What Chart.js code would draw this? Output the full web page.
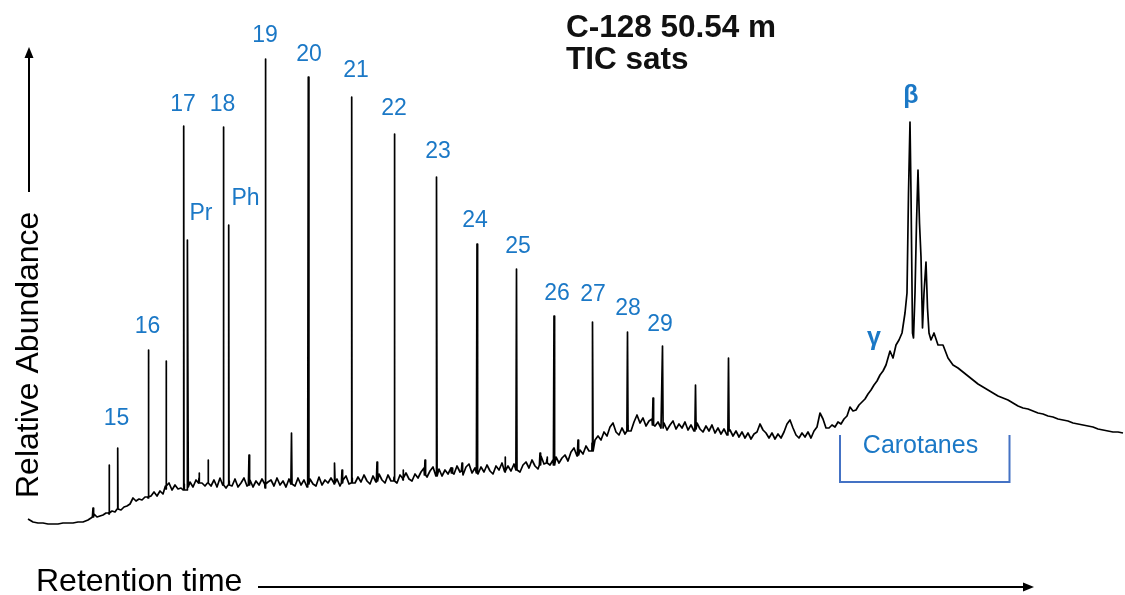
<!DOCTYPE html>
<html>
<head>
<meta charset="utf-8">
<script src="https://cdn.jsdelivr.net/npm/chart.js@4.4.1/dist/chart.umd.min.js"></script>
<style>
html,body{margin:0;padding:0;background:#fff;overflow:hidden;}
#wrap{position:relative;width:1125px;height:595px;}
</style>
</head>
<body>
<div id="wrap"><canvas id="c" width="1125" height="595"></canvas></div>
<script>
// ---- Data (retention time and abundance in arbitrary units) ----
// Early flat part of the trace, sampled every 5 units from 28
const headStart = 28, headStep = 5;
const head = [4,1,0,0,-1,-1,-1,0,0,0,1,1];
// Noisy baseline / UCM, sampled every 3 units from 88 to 886
const noiseStart = 88, noiseStep = 3;
const noise = [
  3,5,9,6,7,8,10,9,12,11,14,13,16,17,19,25,22,24,23,26,25,      // 88-148
  27,31,27,32,29,34,40,33,38,34,                                 // 151-178
  35,39,33,41,36,43,45,40,37,40,                                 // 181-208
  37,43,36,45,39,35,42,37,44,36,                                 // 211-238
  40,45,37,43,36,42,38,44,35,41,                                 // 241-268
  43,37,45,38,42,36,44,39,37,45,                                 // 271-298
  38,43,36,44,39,37,46,38,43,40,                                 // 301-328
  45,39,44,37,43,47,39,45,40,46,                                 // 331-358
  41,48,42,39,47,41,49,43,40,48,                                 // 361-388
  42,46,40,48,43,50,44,42,49,45,                                 // 391-418
  51,55,46,52,56,48,54,47,53,49,                                 // 421-448
  55,49,57,51,48,56,59,50,55,49,                                 // 451-478
  56,51,58,52,49,57,53,60,51,57,                                 // 481-508
  52,59,54,51,58,61,55,63,57,54,                                 // 511-538
  67,59,64,58,63,66,60,                                          // 541-559
  65,68,62,71,75,67,73,69,77,72,                                 // 562-589
  80,83,87,83,91,87,96,100,91,88,                                // 592-619
  95,89,98,92,101,108,100,105,97,102,                            // 622-649
  104,97,101,95,100,93,98,102,94,99,                             // 652-679
  95,101,93,98,92,100,94,91,97,92,                               // 682-709
  98,90,95,89,94,88,93,87,92,86,                                 // 712-739
  91,85,90,84,89,91,99,93,90,85,                                 // 742-769
  90,84,89,85,91,99,103,95,88,85,                                // 772-799
  90,86,91,85,92,96,110,104,95,95,                               // 802-829
  98,96,101,99,104,107,116,112,113,118,                          // 832-859
  121,124,129,133,138,142,148,152,158                            // 862-886
];
// Carotane cluster detail
const caroRT = [890, 893, 896, 899, 902, 905, 907, 908.5, 910, 911, 912.5, 913.5, 915, 916.5, 918, 919.5, 921, 922.5, 924, 926, 927.5, 929, 931, 934];
const caroAb = [172, 165, 178, 183, 190, 210, 230, 330, 401, 330, 190, 185, 230, 300, 353, 300, 266, 195, 230, 261, 215, 190, 183, 190];
// Late tail, sampled every 5 units from 938
const tailStart = 938, tailStep = 5;
const tail = [178,178,165,158,155,151,147,143,139,136,133,130,127,125,123,120,117,115,114,112,
              110,109,107,106,104,103,102,100,99,98,97,96,94,93,92,91,91,90];
// Resolved peaks: retention time, apex, foot
const peakRT   = [93, 109, 117.7, 148.3, 166, 183.7, 187.7, 199, 208, 223.3, 228.7, 249, 265.3, 291.5, 308.3, 334.5, 342, 351.7, 377, 394.3, 403, 425, 436.5, 452, 462, 477, 505, 516.5, 540, 547, 554, 578, 592.5, 627.5, 653, 662.5, 695.5, 728.5];
const peakTop  = [15, 58, 75, 173, 162, 397, 283, 50, 63, 396, 298, 68, 464, 90, 446, 60, 53, 426, 61, 389, 53, 63, 346, 55, 60, 279, 66, 254, 70, 66, 207, 83, 201, 191, 125, 177, 138, 165];
const peakFoot = [6, 10, 14, 26, 37, 33, 36, 40, 40, 38, 38, 38, 39, 39, 39, 40, 40, 40, 42, 42, 45, 48, 47, 50, 52, 50, 52, 53, 58, 60, 58, 68, 72, 92, 98, 95, 94, 92];
// Peak labels
const labelText = ['15','16','17','Pr','18','Ph','19','20','21','22','23','24','25','26','27','28','29'];
const labelRT   = [116.5, 147.5, 183, 201, 222.5, 245.5, 265, 309, 356, 394, 438, 475, 518, 557, 593, 628, 660];
const labelAb   = [98, 190, 412, 303, 412, 318, 481, 462, 446, 408, 365, 296, 270, 223, 222, 208, 192];
const greekText = ['\u03b3','\u03b2'];
const greekRT   = [874, 911];
const greekAb   = [178, 420];

// ---- Build the trace ----
const pts = [];
head.forEach((v, i) => pts.push({x: headStart + i * headStep, y: v}));
noise.forEach((v, i) => pts.push({x: noiseStart + i * noiseStep, y: v}));
caroRT.forEach((x, i) => pts.push({x: x, y: caroAb[i]}));
tail.forEach((v, i) => pts.push({x: tailStart + i * tailStep, y: v}));
peakRT.forEach((x, i) => {
  pts.push({x: x - 0.6, y: peakFoot[i]});
  pts.push({x: x, y: peakTop[i]});
  pts.push({x: x + 0.6, y: peakFoot[i]});
});
pts.sort((a, b) => a.x - b.x);

const BLUE = '#1b78c6';
const FONT = '"Liberation Sans", Arial, Helvetica, sans-serif';

const decor = {
  id: 'decor',
  afterDraw(chart) {
    const ctx = chart.ctx;
    const xs = chart.scales.x, ys = chart.scales.y;
    ctx.save();
    ctx.fillStyle = BLUE;
    ctx.textAlign = 'center';
    ctx.textBaseline = 'alphabetic';
    ctx.font = '23px ' + FONT;
    labelText.forEach((t, i) => {
      ctx.fillText(t, xs.getPixelForValue(labelRT[i]), ys.getPixelForValue(labelAb[i]));
    });
    ctx.font = 'bold 25px ' + FONT;
    greekText.forEach((t, i) => {
      ctx.fillText(t, xs.getPixelForValue(greekRT[i]), ys.getPixelForValue(greekAb[i]));
    });
    // Carotanes bracket
    const bx0 = xs.getPixelForValue(840), bx1 = xs.getPixelForValue(1009.5);
    const by0 = ys.getPixelForValue(88), by1 = ys.getPixelForValue(41);
    ctx.strokeStyle = '#4472c4';
    ctx.lineWidth = 2;
    ctx.beginPath();
    ctx.moveTo(bx0, by0); ctx.lineTo(bx0, by1); ctx.lineTo(bx1, by1); ctx.lineTo(bx1, by0);
    ctx.stroke();
    ctx.fillStyle = BLUE;
    ctx.font = '25px ' + FONT;
    ctx.fillText('Carotanes', xs.getPixelForValue(920.5), ys.getPixelForValue(70));
    // Title
    ctx.fillStyle = '#111';
    ctx.textAlign = 'left';
    ctx.font = 'bold 31.5px ' + FONT;
    ctx.fillText('C-128 50.54 m', 566, 37);
    ctx.fillText('TIC sats', 566, 69);
    // Axis titles and arrows
    ctx.fillStyle = '#000';
    ctx.strokeStyle = '#000';
    ctx.lineWidth = 2;
    ctx.font = '32px ' + FONT;
    ctx.fillText('Retention time', 36, 591);
    ctx.beginPath(); ctx.moveTo(258, 587); ctx.lineTo(1026, 587); ctx.stroke();
    ctx.beginPath(); ctx.moveTo(1034, 587); ctx.lineTo(1023, 582.5); ctx.lineTo(1023, 591.5); ctx.closePath(); ctx.fill();
    ctx.save();
    ctx.translate(38, 498);
    ctx.rotate(-Math.PI / 2);
    ctx.textAlign = 'left';
    ctx.fillText('Relative Abundance', 0, 0);
    ctx.restore();
    ctx.beginPath(); ctx.moveTo(29, 192); ctx.lineTo(29, 56); ctx.stroke();
    ctx.beginPath(); ctx.moveTo(29, 47); ctx.lineTo(24.5, 58); ctx.lineTo(33.5, 58); ctx.closePath(); ctx.fill();
    ctx.restore();
  }
};

new Chart(document.getElementById('c'), {
  type: 'line',
  data: {
    datasets: [{
      data: pts,
      borderColor: '#000',
      borderWidth: 1.7,
      pointRadius: 0,
      tension: 0,
      fill: false,
      borderJoinStyle: 'round'
    }]
  },
  options: {
    responsive: false,
    animation: false,
    devicePixelRatio: 1,
    parsing: false,
    layout: {padding: 0},
    plugins: {legend: {display: false}, tooltip: {enabled: false}},
    scales: {
      x: {type: 'linear', min: 0, max: 1125, display: false},
      y: {type: 'linear', min: -72, max: 523, display: false}
    }
  },
  plugins: [decor]
});
</script>
</body>
</html>
